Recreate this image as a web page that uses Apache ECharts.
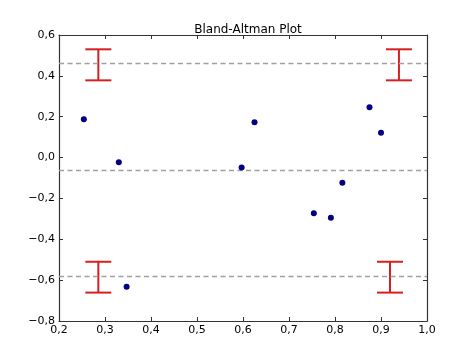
<!DOCTYPE html>
<html><head><meta charset="utf-8">
<script src="https://cdn.jsdelivr.net/npm/echarts@6/dist/echarts.min.js"></script>
<style>html,body{margin:0;padding:0;background:#fff}#c{width:474px;height:357px}</style>
</head><body><div id="c"></div>
<script>
const pointX = [0.254, 0.330, 0.347, 0.597, 0.625, 0.754, 0.791, 0.816, 0.875, 0.900];
const pointY = [0.187, -0.023, -0.632, -0.048, 0.173, -0.273, -0.294, -0.123, 0.246, 0.122];
const refLines = [0.457, -0.064, -0.585];
const errX = [0.2855, 0.939, 0.2855, 0.9196];
const errLow = [0.378, 0.378, -0.661, -0.661];
const errHigh = [0.530, 0.530, -0.510, -0.510];
const xTicks = {min: 0.2, max: 1.0, step: 0.1};
const yTicks = {min: -0.8, max: 0.6, step: 0.2};

const fmt = v => v.toFixed(1).replace('.', ',').replace('-', '\u2212');
const font = 'DejaVu Sans';
const chart = echarts.init(document.getElementById('c'));
const baseAxis = {
  type: 'value', splitLine: {show: false},
  axisLine: {show: true, onZero: false, lineStyle: {color: '#333', width: 1.2}},
  axisTick: {show: true, inside: true, length: 4, lineStyle: {color: '#333'}},
};
chart.setOption({
  animation: false,
  backgroundColor: '#fff',
  title: {text: 'Bland-Altman Plot', left: 243, top: 19, textAlign: 'center',
    textStyle: {fontFamily: font, fontSize: 12, fontWeight: 'normal', color: '#000'}},
  grid: {left: 59, right: 47, top: 35, bottom: 36},
  xAxis: [
    Object.assign({}, baseAxis, {position: 'bottom', min: xTicks.min, max: xTicks.max, interval: xTicks.step,
      axisLabel: {formatter: fmt, fontFamily: font, fontSize: 11, color: '#000', margin: 4}}),
    Object.assign({}, baseAxis, {position: 'top', min: xTicks.min, max: xTicks.max, interval: xTicks.step,
      axisLabel: {show: false}})
  ],
  yAxis: [
    Object.assign({}, baseAxis, {position: 'left', min: yTicks.min, max: yTicks.max, interval: yTicks.step,
      axisLabel: {formatter: fmt, fontFamily: font, fontSize: 11, color: '#000', margin: 4}}),
    Object.assign({}, baseAxis, {position: 'right', min: yTicks.min, max: yTicks.max, interval: yTicks.step,
      axisLabel: {show: false}})
  ],
  series: [
    {
      type: 'scatter', symbolSize: 6, itemStyle: {color: '#000080', opacity: 1},
      data: pointX.map((x, i) => [x, pointY[i]]),
      z: 5,
      markLine: {
        silent: true, symbol: ['none', 'none'], label: {show: false},
        lineStyle: {color: '#a0a0a0', type: [5, 3.5], width: 1.3},
        data: refLines.map(v => ({yAxis: v}))
      }
    },
    {
      type: 'custom', z: 4,
      data: errX.map((x, i) => [x, errLow[i], errHigh[i]]),
      renderItem: function (params, api) {
        const lo = api.coord([api.value(0), api.value(1)]);
        const hi = api.coord([api.value(0), api.value(2)]);
        const hw = 13;
        const st = {stroke: '#d62020', lineWidth: 2, fill: null};
        return {type: 'group', children: [
          {type: 'line', shape: {x1: lo[0], y1: lo[1], x2: hi[0], y2: hi[1]}, style: st},
          {type: 'line', shape: {x1: hi[0] - hw, y1: hi[1], x2: hi[0] + hw, y2: hi[1]}, style: st},
          {type: 'line', shape: {x1: lo[0] - hw, y1: lo[1], x2: lo[0] + hw, y2: lo[1]}, style: st}
        ]};
      }
    }
  ]
});
</script></body></html>
